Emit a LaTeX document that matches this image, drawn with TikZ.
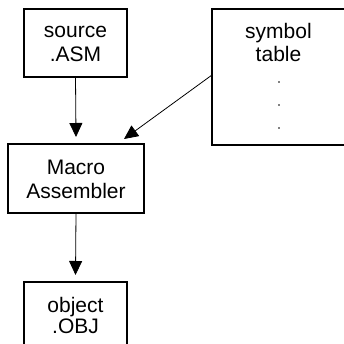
\documentclass[tikz,border=0pt]{standalone}
\usepackage{fontspec}
\setmainfont{Liberation Sans}
\usetikzlibrary{arrows.meta}
\begin{document}
\begin{tikzpicture}[x=1pt,y=-1pt,
  box/.style={draw, line width=1.1pt, inner sep=0pt, outer sep=0pt, anchor=north west},
  txt/.style={font=\fontsize{21}{24}\selectfont, anchor=base, inner sep=0pt},
  arr/.style={line width=0.8pt, -{Triangle[length=14pt,width=13pt]}},
  dotmark/.style={fill, circle, inner sep=0pt, minimum size=1.8pt}]
\useasboundingbox (0,0) rectangle (343,344);
\fill[white] (0,0) rectangle (343,344);
% boxes
\node[box, minimum width=103pt, minimum height=68pt] (src) at (24,9) {};
\node[box, minimum width=136pt, minimum height=136pt] (sym) at (212,9) {};
\node[box, minimum width=136pt, minimum height=69pt] (mac) at (8,144) {};
\node[box, minimum width=103pt, minimum height=70pt] (obj) at (24,282) {};
% texts
\node[txt] (t1) at (75.5,38) {source};
\node[txt] (t2) at (75.5,62) {.ASM};
\node[txt] (t3) at (278.5,39) {symbol};
\node[txt] (t4) at (278.5,62) {table};
\node[txt] (t5) at (76,175) {Macro};
\node[txt] (t6) at (76,198) {Assembler};
\node[txt] (t7) at (75.5,312) {object};
\node[txt] (t8) at (75.5,333) {.OBJ};
% dots
\node[dotmark] (d1) at (279,82) {};
\node[dotmark] (d2) at (279,105) {};
\node[dotmark] (d3) at (279,128) {};
% connectors
\coordinate (tip) at (124,139);
\draw[arr] (src.south) -- ([yshift=7pt]mac.north);
\draw[arr] ([yshift=2pt]sym.west) -- (tip);
\draw[arr] (mac.south) -- ([yshift=7pt]obj.north);
\end{tikzpicture}
\end{document}
